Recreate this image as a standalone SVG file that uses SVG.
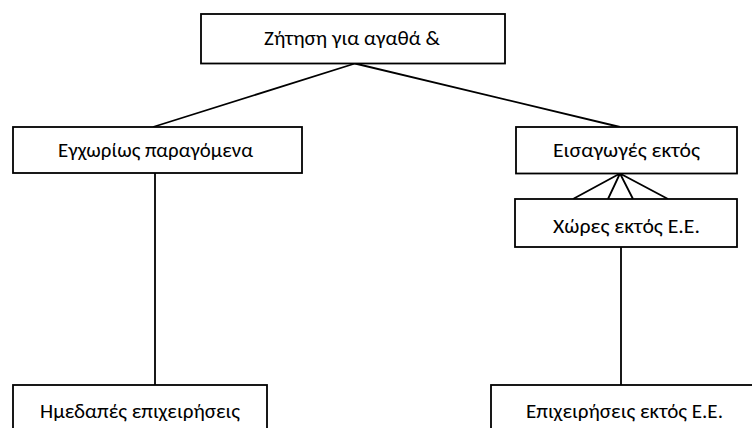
<svg xmlns="http://www.w3.org/2000/svg" width="752" height="428" viewBox="0 0 752 428">
  <style>
    .box { fill: #ffffff; stroke: #000000; stroke-width: 1.8; }
    .link { fill: none; stroke: #000000; stroke-width: 1.8; }
    .label { font-family: "Carlito", "Liberation Sans", "DejaVu Sans", sans-serif; font-size: 19.5px; fill: #000000; text-anchor: middle; }
  </style>
  <rect width="752" height="428" fill="#ffffff"/>

  <g id="connectors">
    <path class="link" d="M355,63.5 L153,127 M355,63.5 L620,127"/>
    <path class="link" d="M155,173 V385"/>
    <path class="link" d="M620,173.5 L573,199 M620,173.5 L608,199 M620,173.5 L633,199 M620,173.5 L668,199"/>
    <path class="link" d="M621,247 V385"/>
  </g>

  <g id="demand">
    <rect class="box" x="201" y="14" width="304" height="49.5"/>
    <text class="label" x="352" y="45" textLength="176" lengthAdjust="spacingAndGlyphs">Ζήτηση για αγαθά &amp;</text>
  </g>

  <g id="domestic">
    <rect class="box" x="13" y="127" width="289" height="46"/>
    <text class="label" x="155.5" y="157" textLength="195" lengthAdjust="spacingAndGlyphs">Εγχωρίως παραγόμενα</text>
  </g>

  <g id="imports">
    <rect class="box" x="516" y="127" width="221" height="46.5"/>
    <text class="label" x="626.5" y="157" textLength="147" lengthAdjust="spacingAndGlyphs">Εισαγωγές εκτός</text>
  </g>

  <g id="non-eu-countries">
    <rect class="box" x="515" y="199" width="222" height="48"/>
    <text class="label" x="626.5" y="233" textLength="147" lengthAdjust="spacingAndGlyphs">Χώρες εκτός Ε.Ε.</text>
  </g>

  <g id="domestic-firms">
    <rect class="box" x="13" y="385" width="254" height="60"/>
    <text class="label" x="140" y="418" textLength="200" lengthAdjust="spacingAndGlyphs">Ημεδαπές επιχειρήσεις</text>
  </g>

  <g id="non-eu-firms">
    <rect class="box" x="491" y="385" width="280" height="60"/>
    <text class="label" x="624.5" y="418" textLength="197" lengthAdjust="spacingAndGlyphs">Επιχειρήσεις εκτός Ε.Ε.</text>
  </g>
</svg>
